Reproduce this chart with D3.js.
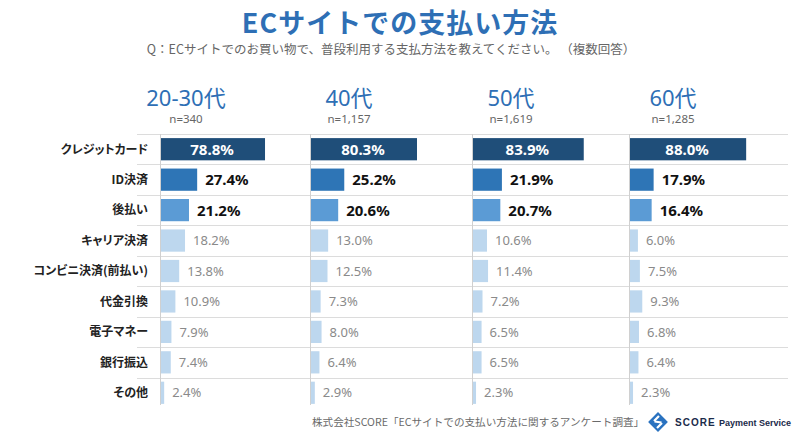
<!DOCTYPE html>
<html><head><meta charset="utf-8">
<script src="https://cdn.jsdelivr.net/npm/d3@7"></script>
<style>
html,body{margin:0;padding:0;background:#fff;}
svg{display:block;font-family:"Noto Sans CJK JP","Noto Sans",sans-serif;}
</style></head>
<body><svg id="c" width="800" height="436"></svg>
<script>
// ---- data ----
const categories = ["クレジットカード","ID決済","後払い","キャリア決済","コンビニ決済(前払い)","代金引換","電子マネー","銀行振込","その他"];
const groups = ["20-30代","40代","50代","60代"];
const sampleSizes = ["n=340","n=1,157","n=1,619","n=1,285"];
const values2030 = [78.8,27.4,21.2,18.2,13.8,10.9,7.9,7.4,2.4];
const values40   = [80.3,25.2,20.6,13.0,12.5,7.3,8.0,6.4,2.9];
const values50   = [83.9,21.9,20.7,10.6,11.4,7.2,6.5,6.5,2.3];
const values60   = [88.0,17.9,16.4,6.0,7.5,9.3,6.8,6.4,2.3];
const seriesValues = [values2030, values40, values50, values60];
const titleText = "ECサイトでの支払い方法";
const subtitleText = "Q：ECサイトでのお買い物で、普段利用する支払方法を教えてください。 （複数回答）";
const sourceText = "株式会社SCORE「ECサイトでの支払い方法に関するアンケート調査」";

// ---- layout ----
const svg = d3.select("#c");
const panelX = [160, 310, 472, 629];
const headerCX = [186, 349, 511, 673];
const barMaxW = 132; // px for 100%
const rowTop = 134, rowBottom = 408;
const pad = 0.27;
const y = d3.scaleBand().domain(categories).range([rowTop, rowBottom]).paddingInner(pad).paddingOuter(pad/2);
const step = y.step();
const barColors = ["#1f4e79","#2e75b6","#5b9bd5","#bdd7ee","#bdd7ee","#bdd7ee","#bdd7ee","#bdd7ee","#bdd7ee"];

// title
svg.append("text").attr("x",400).attr("y",33).attr("text-anchor","middle")
  .attr("font-size",27).attr("font-weight",700).attr("fill","#2e6fb5").attr("letter-spacing",1)
  .text(titleText);
svg.append("text").attr("x",391).attr("y",54).attr("text-anchor","middle")
  .attr("font-size",12.5).attr("fill","#666").text(subtitleText);

// grid lines (row boundaries)
const gridG = svg.append("g");
categories.forEach(c => {
  const yy = Math.round(y(c) - step*pad/2) + 0.5;
  gridG.append("line").attr("x1",137).attr("x2",788).attr("y1",yy).attr("y2",yy)
    .attr("stroke","#dcdcdc").attr("stroke-width",1);
});

// category labels
svg.append("g").selectAll("text").data(categories).join("text")
  .attr("x",148).attr("y",d => y(d)+y.bandwidth()/2).attr("dy","0.36em")
  .attr("text-anchor","end").attr("font-size",12).attr("font-weight",700)
  .attr("fill","#222").style("font-feature-settings","'palt'").text(d => d);

// panels
groups.forEach((g,i) => {
  const x = d3.scaleLinear().domain([0,100]).range([panelX[i], panelX[i]+barMaxW]);
  const pg = svg.append("g");
  // header
  pg.append("text").attr("x",headerCX[i]).attr("y",105.5).attr("text-anchor","middle")
    .attr("font-size",22).attr("fill","#2e6fb5").attr("font-family","'Noto Sans','Noto Sans CJK JP',sans-serif").text(g);
  pg.append("text").attr("x",headerCX[i]).attr("y",123).attr("text-anchor","middle")
    .attr("font-size",11.5).attr("fill","#666").attr("font-family","'Noto Sans',sans-serif").text(sampleSizes[i]);
  // axis line
  pg.append("line").attr("x1",panelX[i]+0.5).attr("x2",panelX[i]+0.5).attr("y1",rowTop).attr("y2",405)
    .attr("stroke","#d0d0d0").attr("stroke-width",1);
  const vals = seriesValues[i];
  pg.selectAll("rect").data(vals).join("rect")
    .attr("x",x(0)+1).attr("y",(d,j)=>y(categories[j]))
    .attr("width",d => x(d)-x(0)).attr("height",y.bandwidth())
    .attr("fill",(d,j)=>barColors[j]);
  pg.selectAll("text.v").data(vals).join("text").attr("class","v")
    .attr("x",(d,j)=> j===0 ? (x(0)+x(d))/2 : x(d)+9)
    .attr("y",(d,j)=>y(categories[j])+y.bandwidth()/2).attr("dy","0.36em")
    .attr("text-anchor",(d,j)=> j===0 ? "middle":"start")
    .attr("font-family","'Noto Sans',sans-serif")
    .attr("font-size",(d,j)=> j<3 ? 15 : 13)
    .attr("font-weight",(d,j)=> j<3 ? 700 : 400)
    .attr("fill",(d,j)=> j===0 ? "#fff" : (j<3 ? "#111" : "#8a8a8a"))
    .text(d => d.toFixed(1)+"%");
});

// footer
svg.append("text").attr("x",312).attr("y",426).attr("font-size",10.6).attr("fill","#6a6a6a").text(sourceText);
// logo
const lg = svg.append("g").attr("transform","translate(658,422)");
lg.append("rect").attr("x",-7).attr("y",-7).attr("width",14).attr("height",14)
  .attr("transform","rotate(45)").attr("fill","#2a72c0");
lg.append("path").attr("d","M-4,-1 L1,-6 M4,1 L-1,6 M-3.5,-0.5 L3.5,0.5").attr("stroke","#fff").attr("stroke-width",2.2).attr("fill","none");
svg.append("text").attr("x",675).attr("y",426).attr("font-size",10).attr("font-weight",700)
  .attr("fill","#1b2b4b").attr("letter-spacing",1).attr("font-family","'Liberation Sans',Arial,sans-serif").text("SCORE");
svg.append("text").attr("x",719).attr("y",426).attr("font-size",9).attr("font-weight",700)
  .attr("fill","#1b2b4b").attr("font-family","'Liberation Sans',Arial,sans-serif").text("Payment Service");
</script></body></html>
